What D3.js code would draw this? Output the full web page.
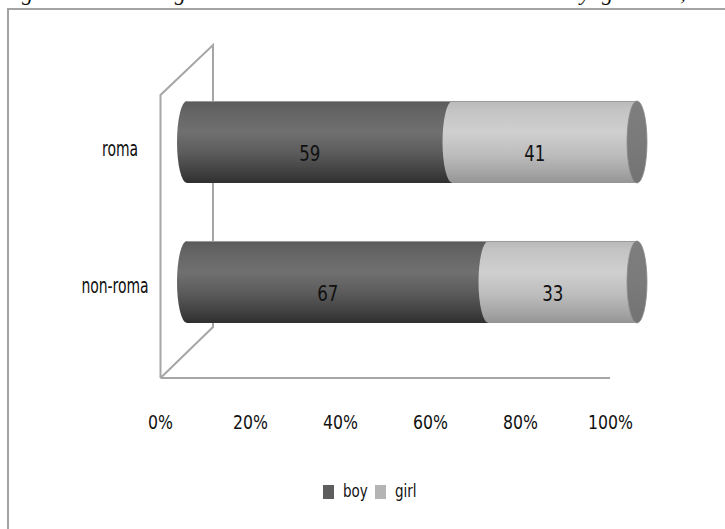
<!DOCTYPE html>
<html>
<head>
<meta charset="utf-8">
<script src="https://cdn.jsdelivr.net/npm/d3@7"></script>
<style>
  html, body { margin: 0; padding: 0; background: #fff; overflow: hidden; }
  svg { display: block; }
</style>
</head>
<body>
<div id="chart"></div>
<script>
// ---- data ----
const categories = ["roma", "non-roma"];
const seriesNames = ["boy", "girl"];
const boyValues = [59, 67];
const girlValues = [41, 33];
const tickValues = [0, 20, 40, 60, 80, 100];
const tickLabels = ["0%", "20%", "40%", "60%", "80%", "100%"];
const captionText = "Figure 4. Last grade VIII students distribution by gender, %";

const W = 725, H = 529;
const svg = d3.select("#chart").append("svg").attr("width", W).attr("height", H);
const defs = svg.append("defs");

const font = "'Liberation Sans Narrow', 'DejaVu Sans Condensed', 'Liberation Sans', sans-serif";

// caption, cut off by the top of the picture (only descenders show)
svg.append("text")
  .attr("x", -4).attr("y", 0)
  .attr("textLength", 720).attr("lengthAdjust", "spacing")
  .style("font-family", "'Liberation Serif', 'DejaVu Serif', serif")
  .style("font-style", "italic")
  .style("font-size", "22px")
  .attr("fill", "#111")
  .text(captionText);

// outer frame
svg.append("rect")
  .attr("x", 8).attr("y", 9).attr("width", 800).attr("height", 600)
  .attr("fill", "none").attr("stroke", "#a3a3a3").attr("stroke-width", 2);

// scales
const x = d3.scaleLinear().domain([0, 100]).range([160, 610]);
const y = d3.scaleBand().domain(categories).range([72, 352]).paddingInner(0.414).paddingOuter(0.207);
const depthX = 53, depthTop = 50;
const barShift = 27;
const rx = 10;

// gradients
function vGrad(id, stops) {
  const g = defs.append("linearGradient").attr("id", id)
    .attr("x1", 0).attr("y1", 0).attr("x2", 0).attr("y2", 1);
  stops.forEach(s => g.append("stop").attr("offset", s[0]).attr("stop-color", s[1]));
}
vGrad("gBoy", [[0, "#595959"], [0.12, "#646464"], [0.38, "#707070"], [0.65, "#5a5a5a"], [0.9, "#3c3c3c"], [1, "#2f2f2f"]]);
vGrad("gGirl", [[0, "#b9b9b9"], [0.12, "#c4c4c4"], [0.38, "#cfcfcf"], [0.65, "#bdbdbd"], [0.9, "#a2a2a2"], [1, "#949494"]]);
vGrad("gCap", [[0, "#7e7e7e"], [0.5, "#7a7a7a"], [1, "#737373"]]);

// walls (3D frame)
const wall = svg.append("g").attr("fill", "none").attr("stroke", "#a6a6a6").attr("stroke-width", 2);
const fx = x(0) + 0.5, bx = x(0) + depthX;
const frontTop = 95, frontBottom = 378, backTop = frontTop - depthTop, backBottom = 327;
wall.append("path").attr("d", `M${fx},${frontBottom} L${fx},${frontTop} L${bx},${backTop} L${bx},${backBottom} L${fx},${frontBottom}`);
wall.append("line").attr("x1", fx).attr("x2", x(100)).attr("y1", frontBottom).attr("y2", frontBottom);

// cylinders
function bodyPath(a, b, top, bot) {
  const ry = (bot - top) / 2;
  return `M${a},${top} L${b},${top} L${b},${bot} L${a},${bot} A${rx},${ry} 0 0 1 ${a},${top} Z`;
}

const rows = categories.map((c, i) => ({ cat: c, boy: boyValues[i], girl: girlValues[i] }));

const bars = svg.append("g");
rows.forEach(r => {
  const top = y(r.cat), bot = y(r.cat) + y.bandwidth();
  const ry = y.bandwidth() / 2;
  const a = x(0) + barShift;
  const b = x(r.boy) + barShift;
  const e = x(r.boy + r.girl) + barShift;
  bars.append("path").attr("d", bodyPath(a, b, top, bot)).attr("fill", "url(#gBoy)");
  bars.append("path").attr("d", bodyPath(b, e, top, bot)).attr("fill", "url(#gGirl)");
  bars.append("line").attr("x1", a).attr("x2", e).attr("y1", top + 0.5).attr("y2", top + 0.5)
    .attr("stroke", "#9c9c9c").attr("stroke-width", 1);
  bars.append("ellipse").attr("cx", e).attr("cy", top + ry).attr("rx", rx).attr("ry", ry)
    .attr("fill", "url(#gCap)").attr("stroke", "#8a8a8a").attr("stroke-width", 0.8);

  const cy = top + ry;
  [[r.boy, (a + b) / 2], [r.girl, (b + e) / 2]].forEach(([v, cx]) => {
    bars.append("text")
      .attr("transform", `translate(${cx - 10},${cy + 19}) scale(1,1.15)`)
      .attr("text-anchor", "middle")
      .style("font-family", font).style("font-size", "18.5px")
      .attr("fill", "#111")
      .text(v);
  });
});

// category labels
const catG = svg.append("g");
categories.forEach(c => {
  const cy = y(c) + y.bandwidth() / 2 + (c === "roma" ? 14 : 11);
  catG.append("text")
    .attr("transform", `translate(${c === "roma" ? 120 : 115},${cy}) scale(1,1.4)`)
    .attr("text-anchor", "middle")
    .style("font-family", font).style("font-size", "15.5px")
    .attr("fill", "#111")
    .text(c);
});

// x axis labels
const axis = d3.axisBottom(x).tickValues(tickValues).tickFormat((d, i) => tickLabels[i]).tickSize(0).tickPadding(0);
const ax = svg.append("g").attr("transform", "translate(0,429)").call(axis);
ax.select(".domain").remove();
ax.selectAll("text")
  .attr("dy", 0).attr("y", 0)
  .attr("transform", "scale(1,1.12)")
  .style("font-family", font).style("font-size", "17.5px")
  .attr("fill", "#111");
ax.selectAll(".tick").each(function () {
  // keep baseline at axis position after scaling
  d3.select(this).select("text").attr("transform", "scale(1,1.12)");
});

// legend
const legendColors = ["#5e5e5e", "#b4b4b4"];
const legendX = [323, 375];
const lg = svg.append("g");
seriesNames.forEach((s, i) => {
  lg.append("rect").attr("x", legendX[i]).attr("y", 485).attr("width", 11).attr("height", 14)
    .attr("fill", legendColors[i]);
  lg.append("text")
    .attr("transform", `translate(${legendX[i] + 20},497) scale(1,1.15)`)
    .style("font-family", font).style("font-size", "15px")
    .attr("fill", "#111")
    .text(s);
});
</script>
</body>
</html>
